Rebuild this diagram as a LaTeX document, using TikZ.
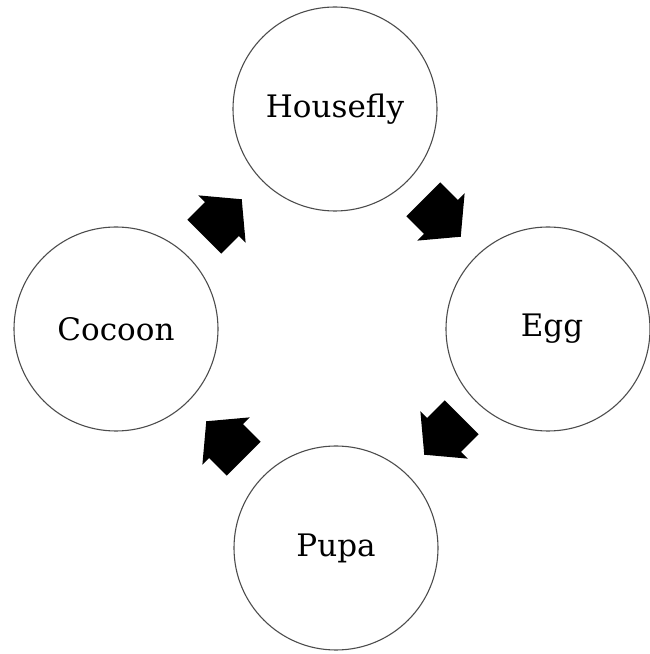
\documentclass[tikz,border=0pt]{standalone}
\usepackage{fontspec}
\setmainfont{DejaVu Serif}
\begin{document}
\begin{tikzpicture}[x=1pt,y=1pt,
  stage/.style={circle,draw=black!70,line width=1.1pt,minimum size=204pt,inner sep=0pt,font=\fontsize{31}{36}\selectfont},
  blockarrow/.pic={\fill[black] (-26.5,-24) -- (-1.5,-24) -- (-1.5,-33.5) -- (26.5,0) -- (-1.5,33.5) -- (-1.5,24) -- (-26.5,24) -- cycle;}]
\useasboundingbox (0,0) rectangle (650,654);
\node[stage] (housefly) at (335,545) {Housefly};
\node[stage] (egg) at (548,325) {\hspace*{8pt}Egg};
\node[stage] (pupa) at (336,106) {Pupa};
\node[stage] (cocoon) at (116,325) {Cocoon};
\pic[rotate=45] (a1) at (223,436) {blockarrow};
\pic[rotate=-45] (a2) at (442,436) {blockarrow};
\pic[rotate=-135] (a3) at (443,218) {blockarrow};
\pic[rotate=135] (a4) at (225,214) {blockarrow};
\end{tikzpicture}
\end{document}
